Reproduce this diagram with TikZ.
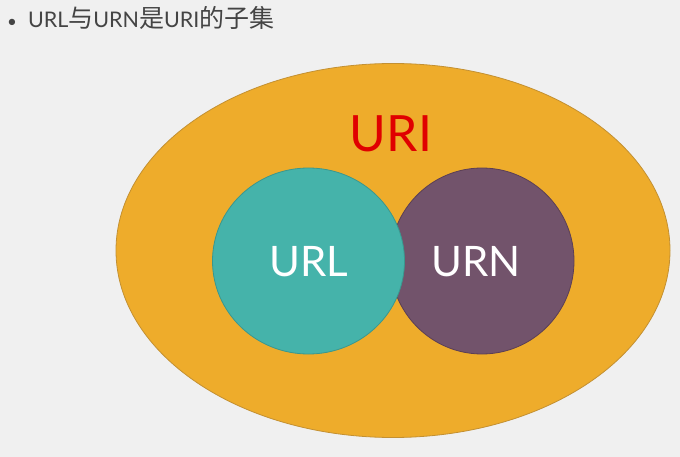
\documentclass[tikz,border=0pt]{standalone}
\usepackage{fontspec}
\setmainfont{Lato}
\newfontfamily\cjk{Noto Sans CJK SC}
\definecolor{bgc}{HTML}{F0F0F0}
\definecolor{urifill}{HTML}{EEAC2B}
\definecolor{uridraw}{HTML}{C39032}
\definecolor{urlfill}{HTML}{45B3AA}
\definecolor{urldraw}{HTML}{3A978E}
\definecolor{urnfill}{HTML}{72536B}
\definecolor{urndraw}{HTML}{5B3F55}
\definecolor{urired}{HTML}{E00000}
\definecolor{titlegray}{HTML}{444444}
\begin{document}
\begin{tikzpicture}[x=1pt,y=-1pt,
  blob/.style={line width=0.8pt},
  biglabel/.style={text=white,font=\fontsize{42}{46}\selectfont,inner sep=0pt}]
\fill[bgc] (0,0) rectangle (680,457);
\useasboundingbox (0,0) rectangle (680,457);
\draw[blob,fill=urifill,draw=uridraw] (393,250.5) ellipse [x radius=277,y radius=187];
\draw[blob,fill=urnfill,draw=urndraw] (482,261) ellipse [x radius=92,y radius=93];
\draw[blob,fill=urlfill,draw=urldraw] (308.5,261) ellipse [x radius=96,y radius=93];
\node[text=urired,font=\fontsize{50}{54}\selectfont,inner sep=0pt] (uri) at (391,134) {URI};
\node[biglabel] (url) at (309,262) {URL};
\node[biglabel] (urn) at (476,262) {URN};
\node[anchor=west,text=titlegray,inner sep=0pt,font=\fontsize{21.5}{24}\selectfont] (title) at (7,18)
  {{\fontsize{17}{20}\selectfont\textbullet}\hspace{11pt}URL{\cjk\fontsize{25}{27}\selectfont 与}URN{\cjk\fontsize{25}{27}\selectfont 是}URI{\cjk\fontsize{25}{27}\selectfont 的子集}};
\end{tikzpicture}
\end{document}
